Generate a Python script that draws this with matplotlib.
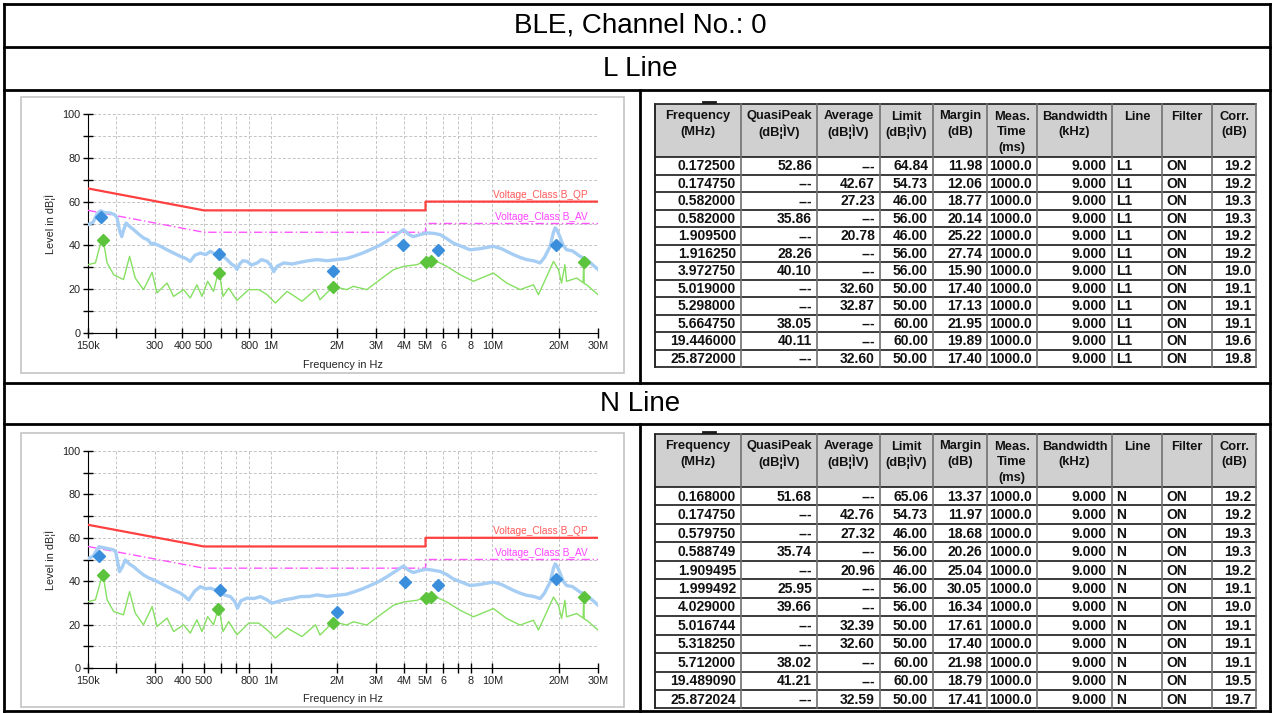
import matplotlib.pyplot as plt
from matplotlib import font_manager
from matplotlib.patches import Rectangle

plt.rcParams['font.family'] = ['Liberation Sans', 'DejaVu Sans']

# the report uses Arial Narrow; use Liberation Sans Narrow when it is there
_installed = {f.name for f in font_manager.fontManager.ttflist}
if 'Liberation Sans Narrow' in _installed:
    NARROW = ['Liberation Sans Narrow', 'DejaVu Sans']
    cell_size, head_size, big_size = 11, 10.5, 21
else:
    NARROW = ['Liberation Sans', 'DejaVu Sans']
    cell_size, head_size, big_size = 10, 9.3, 20

title = "BLE, Channel No.: 0"
sections = ["L Line", "N Line"]

# x axis of the EMI charts (MHz)
tick_pos = [0.15, 0.2, 0.3, 0.4, 0.5, 0.6, 0.7, 0.8, 1, 2, 3, 4, 5, 6, 7, 8, 10, 20, 30]
tick_lab = ["150k", "", "300", "400", "500", "", "", "800", "1M", "2M", "3M", "4M",
            "5M", "6", "", "8", "10M", "20M", "30M"]

# limit lines (CISPR 32 class B)
qp_lim_f = [0.15, 0.5, 5, 5, 30]
qp_lim_v = [66, 56, 56, 60, 60]
av_lim_f = [0.15, 0.5, 5, 5, 30]
av_lim_v = [56, 46, 46, 50, 50]

# ---- L line traces (MHz, dBuV) ----
l_peak_f = [0.150, 0.158, 0.165, 0.171, 0.178, 0.189, 0.198, 0.203, 0.208, 0.213, 0.218,
            0.223, 0.232, 0.241, 0.255, 0.267, 0.280, 0.290, 0.297, 0.320, 0.341, 0.365,
            0.392, 0.415, 0.434, 0.455, 0.482, 0.510, 0.535, 0.560, 0.584, 0.610, 0.636,
            0.665, 0.690, 0.705, 0.725, 0.750, 0.783, 0.820, 0.869, 0.910, 0.964, 1.000,
            1.033, 1.070, 1.146, 1.250, 1.362, 1.480, 1.621, 1.800, 1.988, 2.200, 2.364,
            2.600, 2.810, 3.100, 3.342, 3.650, 3.974, 4.200, 4.409, 4.750, 5.067, 5.450,
            5.820, 6.250, 6.682, 7.300, 7.945, 8.800, 10.12, 11.00, 12.45, 13.35, 14.30,
            15.34, 16.45, 17.20, 18.25, 18.89, 19.23, 19.60, 20.18, 20.90, 21.65, 23.00,
            24.90, 26.70, 28.50, 30.0]
l_peak_v = [49.5, 50.5, 54.5, 55.8, 55.0, 54.8, 54.0, 52.5, 47.0, 44.0, 47.5,
            50.2, 48.5, 47.2, 45.0, 43.4, 42.5, 40.5, 41.0, 39.5, 38.0, 36.5,
            35.0, 34.0, 32.7, 35.5, 36.5, 35.8, 37.3, 36.0, 36.5, 35.0, 33.5,
            31.5, 30.5, 29.0, 31.5, 33.0, 32.7, 31.0, 32.0, 33.5, 32.7, 31.0,
            28.0, 30.5, 32.0, 31.5, 32.3, 33.0, 33.5, 33.0, 33.5, 34.0, 35.0,
            36.5, 38.0, 40.0, 41.9, 44.5, 47.2, 45.0, 44.0, 45.0, 45.7, 45.5,
            44.9, 43.0, 41.0, 39.5, 38.0, 38.5, 39.6, 38.5, 35.8, 34.5, 33.5,
            33.0, 32.0, 34.5, 39.6, 46.0, 48.0, 47.0, 44.0, 40.0, 38.0, 37.5,
            35.0, 33.5, 31.0, 29.0]
l_avg_f = [0.150, 0.162, 0.171, 0.175, 0.183, 0.196, 0.217, 0.231, 0.245, 0.267, 0.292,
           0.307, 0.341, 0.365, 0.405, 0.434, 0.465, 0.490, 0.520, 0.553, 0.584, 0.610,
           0.647, 0.705, 0.797, 0.884, 0.964, 1.051, 1.187, 1.386, 1.593, 1.671, 1.920,
           2.205, 2.364, 2.715, 3.119, 3.582, 3.974, 4.565, 4.980, 5.430, 6.237, 7.162,
           8.225, 10.12, 11.62, 13.35, 15.34, 16.16, 17.63, 18.89, 19.91, 20.54, 21.27,
           21.65, 24.05, 25.70, 25.87, 26.00, 26.70, 30.0]
l_avg_v = [31.2, 32.0, 41.0, 43.4, 32.0, 26.6, 24.4, 35.0, 25.1, 19.8, 27.7,
           18.3, 22.8, 16.7, 19.8, 16.0, 22.0, 16.7, 23.6, 19.0, 28.9, 16.7,
           20.5, 14.9, 19.8, 19.8, 17.5, 13.7, 19.0, 14.5, 19.8, 15.2, 21.3,
           19.8, 21.3, 19.8, 24.4, 28.9, 30.4, 31.2, 32.7, 33.5, 30.4, 26.6,
           23.6, 27.4, 22.8, 19.8, 22.0, 17.5, 25.9, 32.7, 28.9, 22.8, 31.2,
           23.6, 25.1, 23.0, 32.6, 22.5, 22.0, 17.5]

# ---- N line traces ----
n_peak_f = [0.150, 0.158, 0.168, 0.183, 0.195, 0.200, 0.204, 0.208, 0.214, 0.221, 0.230,
            0.241, 0.255, 0.267, 0.282, 0.297, 0.320, 0.341, 0.365, 0.392, 0.410, 0.427,
            0.455, 0.482, 0.510, 0.535, 0.560, 0.594, 0.625, 0.659, 0.690, 0.709, 0.735,
            0.783, 0.840, 0.900, 0.960, 1.015, 1.070, 1.146, 1.250, 1.362, 1.500, 1.621,
            1.800, 1.988, 2.200, 2.364, 2.600, 2.810, 3.100, 3.342, 3.650, 3.974, 4.200,
            4.409, 4.750, 5.067, 5.450, 5.820, 6.250, 6.682, 7.300, 7.945, 8.800, 10.12,
            11.00, 12.45, 13.35, 14.30, 15.34, 16.45, 17.20, 18.25, 18.89, 19.23, 19.60,
            20.18, 20.90, 21.65, 23.00, 24.90, 26.70, 28.50, 30.0]
n_peak_v = [50.5, 51.5, 55.9, 55.1, 54.5, 53.6, 49.0, 44.4, 46.5, 49.8, 48.0,
            46.7, 44.5, 42.9, 41.5, 40.6, 39.0, 37.5, 36.0, 34.5, 33.0, 31.4,
            35.5, 37.5, 36.5, 36.8, 36.0, 34.5, 33.5, 32.9, 30.5, 27.6, 31.0,
            32.2, 32.0, 32.9, 31.5, 29.9, 30.5, 31.4, 32.0, 32.9, 33.0, 33.7,
            33.0, 33.5, 34.0, 35.0, 36.5, 38.0, 40.0, 42.0, 44.5, 47.0, 45.0,
            44.0, 45.0, 45.5, 45.0, 44.5, 43.0, 41.0, 39.5, 38.0, 38.5, 39.6,
            38.5, 35.8, 34.5, 33.5, 33.0, 32.0, 34.5, 39.6, 46.0, 48.0, 47.0,
            44.0, 40.0, 38.0, 37.5, 35.0, 33.5, 31.0, 29.0]
n_avg_f = [0.150, 0.162, 0.171, 0.175, 0.183, 0.196, 0.217, 0.231, 0.245, 0.267, 0.292,
           0.307, 0.341, 0.365, 0.405, 0.434, 0.465, 0.490, 0.520, 0.553, 0.584, 0.610,
           0.647, 0.705, 0.797, 0.884, 0.964, 1.051, 1.187, 1.386, 1.593, 1.671, 1.920,
           2.205, 2.364, 2.715, 3.119, 3.582, 3.974, 4.565, 4.980, 5.430, 6.237, 7.162,
           8.225, 10.12, 11.62, 13.35, 15.34, 16.16, 17.63, 18.89, 19.91, 20.54, 21.27,
           21.65, 24.05, 25.70, 25.87, 26.00, 26.70, 30.0]
n_avg_v = [30.6, 31.4, 40.0, 43.3, 31.4, 26.0, 24.5, 35.2, 25.3, 19.9, 28.3,
           19.1, 23.0, 16.8, 19.9, 16.1, 22.2, 16.8, 23.7, 19.9, 28.3, 16.8,
           21.4, 15.3, 20.7, 20.7, 17.6, 13.8, 18.4, 14.5, 19.9, 15.2, 21.3,
           19.8, 21.3, 19.8, 24.4, 28.9, 30.4, 31.2, 32.5, 33.3, 30.4, 26.6,
           23.6, 27.4, 22.8, 19.8, 22.0, 17.5, 25.9, 32.7, 28.9, 22.8, 31.2,
           23.6, 25.1, 23.0, 32.6, 22.5, 22.0, 17.5]

# ---- final measurement tables ----
headers = [["Frequency", "(MHz)"], ["QuasiPeak", "(dB¦ÌV)"], ["Average", "(dB¦ÌV)"],
           ["Limit", "(dB¦ÌV)"], ["Margin", "(dB)"], ["Meas.", "Time", "(ms)"],
           ["Bandwidth", "(kHz)"], ["Line"], ["Filter"], ["Corr.", "(dB)"]]

l_freq = [0.172500, 0.174750, 0.582000, 0.582000, 1.909500, 1.916250, 3.972750,
          5.019000, 5.298000, 5.664750, 19.446000, 25.872000]
l_qp = [52.86, None, None, 35.86, None, 28.26, 40.10, None, None, 38.05, 40.11, None]
l_av = [None, 42.67, 27.23, None, 20.78, None, None, 32.60, 32.87, None, None, 32.60]
l_limit = [64.84, 54.73, 46.00, 56.00, 46.00, 56.00, 56.00, 50.00, 50.00, 60.00, 60.00, 50.00]
l_margin = [11.98, 12.06, 18.77, 20.14, 25.22, 27.74, 15.90, 17.40, 17.13, 21.95, 19.89, 17.40]
l_corr = [19.2, 19.2, 19.3, 19.3, 19.2, 19.2, 19.0, 19.1, 19.1, 19.1, 19.6, 19.8]

n_freq = [0.168000, 0.174750, 0.579750, 0.588749, 1.909495, 1.999492, 4.029000,
          5.016744, 5.318250, 5.712000, 19.489090, 25.872024]
n_qp = [51.68, None, None, 35.74, None, 25.95, 39.66, None, None, 38.02, 41.21, None]
n_av = [None, 42.76, 27.32, None, 20.96, None, None, 32.39, 32.60, None, None, 32.59]
n_limit = [65.06, 54.73, 46.00, 56.00, 46.00, 56.00, 56.00, 50.00, 50.00, 60.00, 60.00, 50.00]
n_margin = [13.37, 11.97, 18.68, 20.26, 25.04, 30.05, 16.34, 17.61, 17.40, 21.98, 18.79, 17.41]
n_corr = [19.2, 19.2, 19.3, 19.3, 19.2, 19.1, 19.0, 19.1, 19.1, 19.1, 19.5, 19.7]

meas_time = "1000.0"
bandwidth = "9.000"
filter_state = "ON"

col_edges = [655, 741, 817, 880, 933, 987, 1037, 1112, 1162, 1212, 1256]


def draw_chart(ax, pk_f, pk_v, av_f, av_v, freq, qp, av):
    ax.set_xscale('log')
    ax.plot(qp_lim_f, qp_lim_v, color='#ff4040', lw=1.6, zorder=3)
    ax.plot(av_lim_f, av_lim_v, color='#ff55ff', lw=1.0, ls=(0, (6, 2, 1, 2)), zorder=3)
    ax.plot(pk_f, pk_v, color='#a6cdf4', lw=2.4, zorder=4)
    ax.plot(av_f, av_v, color='#86e062', lw=1.0, zorder=4)
    qf = [f for f, v in zip(freq, qp) if v is not None]
    qv = [v for v in qp if v is not None]
    af = [f for f, v in zip(freq, av) if v is not None]
    avv = [v for v in av if v is not None]
    ax.plot(qf, qv, 'D', color='#3a8edb', ms=6.5, zorder=5)
    ax.plot(af, avv, 'D', color='#5cc43c', ms=6.5, zorder=5)
    ax.text(27, 60.6, "Voltage_Class B_QP", color='#ff5a5a', fontsize=7.3, ha='right', va='bottom')
    ax.text(27, 50.8, "Voltage_Class B_AV", color='#ff44ff', fontsize=7.3, ha='right', va='bottom')

    ax.set_xlim(0.15, 30)
    ax.set_ylim(0, 100)
    ax.set_xticks(tick_pos)
    ax.set_xticklabels(tick_lab)
    ax.xaxis.set_minor_locator(plt.NullLocator())
    ax.set_yticks(range(0, 101, 20))
    ax.set_yticks(range(10, 100, 20), minor=True)
    ax.tick_params(which='both', direction='inout', length=7, width=1, labelsize=7.8,
                   labelcolor='#222222', pad=2)
    ax.grid(True, which='both', ls=(0, (3, 2)), color='#c4c4c4', lw=0.7)
    for s in ['top', 'right']:
        ax.spines[s].set_visible(False)
    ax.text(0.5, -0.145, "Frequency in Hz", transform=ax.transAxes, ha='center', va='center',
            fontsize=7.8, color='#222222')
    ax.text(-0.075, 0.5, "Level in dB¦Ì", transform=ax.transAxes, ha='center', va='center',
            rotation=90, fontsize=7.8, color='#222222')


def fmt(v, pattern):
    return "---" if v is None else pattern % v


def draw_table(pg, top, hdr_bot, row_h, freq, qp, av, limit, margin, corr, line_name):
    n = len(freq)
    bottom = hdr_bot + n * row_h
    x0, x1 = col_edges[0], col_edges[-1]
    cell = dict(fontsize=cell_size, fontweight='bold', family=NARROW, color='#111111', va='center')
    pg.add_patch(Rectangle((x0, top), x1 - x0, hdr_bot - top, fc='#d0d0d0', ec='none'))
    for i, lines in enumerate(headers):
        cx = (col_edges[i] + col_edges[i + 1]) / 2
        for k, s in enumerate(lines):
            pg.text(cx, top + 12.5 + k * 15.5, s, ha='center', va='center', fontsize=head_size,
                    fontweight='bold', family=NARROW, color='#111111')
    for r in range(n):
        yc = hdr_bot + (r + 0.5) * row_h + 0.5
        right_cells = [fmt(freq[r], "%.6f"), fmt(qp[r], "%.2f"), fmt(av[r], "%.2f"),
                       fmt(limit[r], "%.2f"), fmt(margin[r], "%.2f"), meas_time, bandwidth]
        for c, s in enumerate(right_cells):
            pg.text(col_edges[c + 1] - 5, yc, s, ha='right', **cell)
        pg.text(col_edges[7] + 4, yc, line_name, ha='left', **cell)
        pg.text(col_edges[8] + 4, yc, filter_state, ha='left', **cell)
        pg.text(col_edges[10] - 5, yc, "%.1f" % corr[r], ha='right', **cell)
    for y in [top, hdr_bot] + [hdr_bot + (r + 1) * row_h for r in range(n)]:
        pg.plot([x0, x1], [y, y], color='#1a1a1a', lw=1.2)
    for x in col_edges:
        pg.plot([x, x], [top, bottom], color='#707070', lw=1.2)
    pg.plot([x0, x0], [top, bottom], color='#1a1a1a', lw=1.2)
    pg.plot([703, 715], [top - 2, top - 2], color='#1a1a1a', lw=2)


fig = plt.figure(figsize=(12.74, 7.13), dpi=100)
pg = fig.add_axes([0, 0, 1, 1])
pg.set_xlim(0, 1274)
pg.set_ylim(713, 0)
pg.axis('off')

# document frame
frame_kw = dict(color='black', lw=2.0, solid_capstyle='projecting')
for y in [4, 47, 90, 383, 424, 711]:
    pg.plot([4, 1270], [y, y], **frame_kw)
pg.plot([4, 4], [4, 711], **frame_kw)
pg.plot([1270, 1270], [4, 711], **frame_kw)
pg.plot([640, 640], [90, 383], **frame_kw)
pg.plot([640, 640], [424, 711], **frame_kw)

pg.text(640, 26, title, ha='center', va='center', fontsize=big_size, family=NARROW)
pg.text(640, 69, sections[0], ha='center', va='center', fontsize=big_size, family=NARROW)
pg.text(640, 404, sections[1], ha='center', va='center', fontsize=big_size, family=NARROW)

# chart panels
pg.add_patch(Rectangle((21, 97), 603, 276, fc='white', ec='#c4c4c4', lw=1.2))
pg.add_patch(Rectangle((21, 433), 603, 274, fc='white', ec='#c4c4c4', lw=1.2))

ax_l = fig.add_axes([88 / 1274, 1 - 333 / 713, 510 / 1274, 219 / 713])
draw_chart(ax_l, l_peak_f, l_peak_v, l_avg_f, l_avg_v, l_freq, l_qp, l_av)
ax_n = fig.add_axes([88 / 1274, 1 - 668 / 713, 510 / 1274, 217 / 713])
draw_chart(ax_n, n_peak_f, n_peak_v, n_avg_f, n_avg_v, n_freq, n_qp, n_av)

draw_table(pg, 104, 157, 17.5, l_freq, l_qp, l_av, l_limit, l_margin, l_corr, "L1")
draw_table(pg, 434, 487, 18.45, n_freq, n_qp, n_av, n_limit, n_margin, n_corr, "N")

fig.savefig("out.png", dpi=100)
